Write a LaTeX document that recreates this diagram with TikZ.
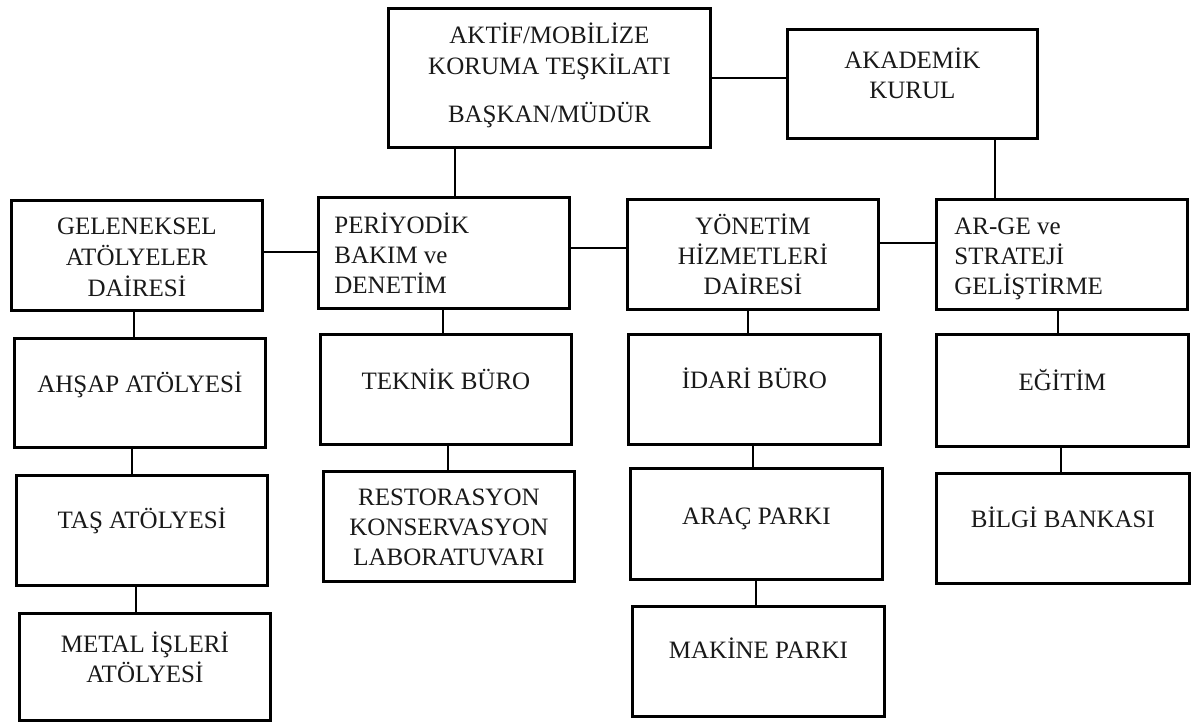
\documentclass[tikz,border=0pt]{standalone}
\usepackage{fontspec}
\setmainfont{Liberation Serif}
\newcommand{\bxc}[4]{\parbox[c][#2pt][t]{#1pt}{\vspace*{\dimexpr#3pt-\ht\strutbox\relax}\centering\strut #4}}
\newcommand{\bxl}[5]{\parbox[c][#2pt][t]{#1pt}{\vspace*{\dimexpr#3pt-\ht\strutbox\relax}\raggedright\leftskip=#4pt\strut #5}}
\tikzset{
  orgbox/.style={draw=black, line width=2.8pt, rectangle, inner sep=0pt, anchor=north west,
    font={\fontsize{25}{30}\selectfont}, text=black!90},
  link/.style={draw=black, line width=2.8pt}
}
\begin{document}
\begin{tikzpicture}[x=1pt,y=-1pt]
\useasboundingbox (0,0) rectangle (1197,722);
\fill[white] (0,0) rectangle (1197,722);
% top level
\node[orgbox] (top) at (387,7) {\bxc{322}{139}{34.7}{AKTİF/MOBİLİZE\\[1.6pt]KORUMA TEŞKİLATI\\[18pt]BAŞKAN/MÜDÜR}};
\node[orgbox] (aka) at (786,28) {\bxc{250}{109}{38.7}{AKADEMİK\\KURUL}};
% second row
\node[orgbox] (gel) at (10,199) {\bxc{251}{110}{34.3}{GELENEKSEL\\[1pt]ATÖLYELER\\[1pt]DAİRESİ}};
\node[orgbox] (per) at (317,196) {\bxl{251}{111}{35.7}{16}{PERİYODİK\\BAKIM ve\\DENETİM}};
\node[orgbox] (yon) at (626,198) {\bxc{251}{110}{34.7}{YÖNETİM\\HİZMETLERİ\\DAİRESİ}};
\node[orgbox] (arg) at (935,198) {\bxl{251}{110}{34.7}{18}{AR-GE ve\\STRATEJİ\\GELİŞTİRME}};
% column 1
\node[orgbox] (ahs) at (13,337) {\bxc{251}{109}{53.7}{AHŞAP ATÖLYESİ}};
\node[orgbox] (tas) at (15,474) {\bxc{251}{110}{52.7}{TAŞ ATÖLYESİ}};
\node[orgbox] (met) at (18,612) {\bxc{251}{107}{38.7}{METAL İŞLERİ\\ATÖLYESİ}};
% column 2
\node[orgbox] (tek) at (319,333) {\bxc{251}{110}{55.3}{TEKNİK BÜRO}};
\node[orgbox] (res) at (322,470) {\bxc{251}{110}{34}{RESTORASYON\\KONSERVASYON\\LABORATUVARI}};
% column 3
\node[orgbox] (ida) at (627,333) {\bxc{252}{110}{53.7}{İDARİ BÜRO}};
\node[orgbox] (ara) at (629,467) {\bxc{252}{111}{55.7}{ARAÇ PARKI}};
\node[orgbox] (mak) at (631,605) {\bxc{252}{110}{51.7}{MAKİNE PARKI}};
% column 4
\node[orgbox] (egi) at (935,333) {\bxc{252}{112}{56}{EĞİTİM}};
\node[orgbox] (bil) at (935,472) {\bxc{253}{110}{53.7}{BİLGİ BANKASI}};
% connectors
\draw[link] (top.east |- 0,78) -- (aka.west |- 0,78);
\draw[link] (top.south -| 455,0) -- (per.north -| 455,0);
\draw[link] (aka.south -| 995,0) -- (arg.north -| 995,0);
\draw[link] (gel.east |- 0,252) -- (per.west |- 0,252);
\draw[link] (per.east |- 0,248) -- (yon.west |- 0,248);
\draw[link] (yon.east |- 0,243) -- (arg.west |- 0,243);
\draw[link] (gel.south -| 134,0) -- (ahs.north -| 134,0);
\draw[link] (ahs.south -| 132,0) -- (tas.north -| 132,0);
\draw[link] (tas.south -| 136,0) -- (met.north -| 136,0);
\draw[link] (per.south -| 443,0) -- (tek.north -| 443,0);
\draw[link] (tek.south -| 448,0) -- (res.north -| 448,0);
\draw[link] (yon.south -| 748,0) -- (ida.north -| 748,0);
\draw[link] (ida.south -| 753,0) -- (ara.north -| 753,0);
\draw[link] (ara.south -| 756,0) -- (mak.north -| 756,0);
\draw[link] (arg.south -| 1058,0) -- (egi.north -| 1058,0);
\draw[link] (egi.south -| 1061,0) -- (bil.north -| 1061,0);
\end{tikzpicture}
\end{document}
